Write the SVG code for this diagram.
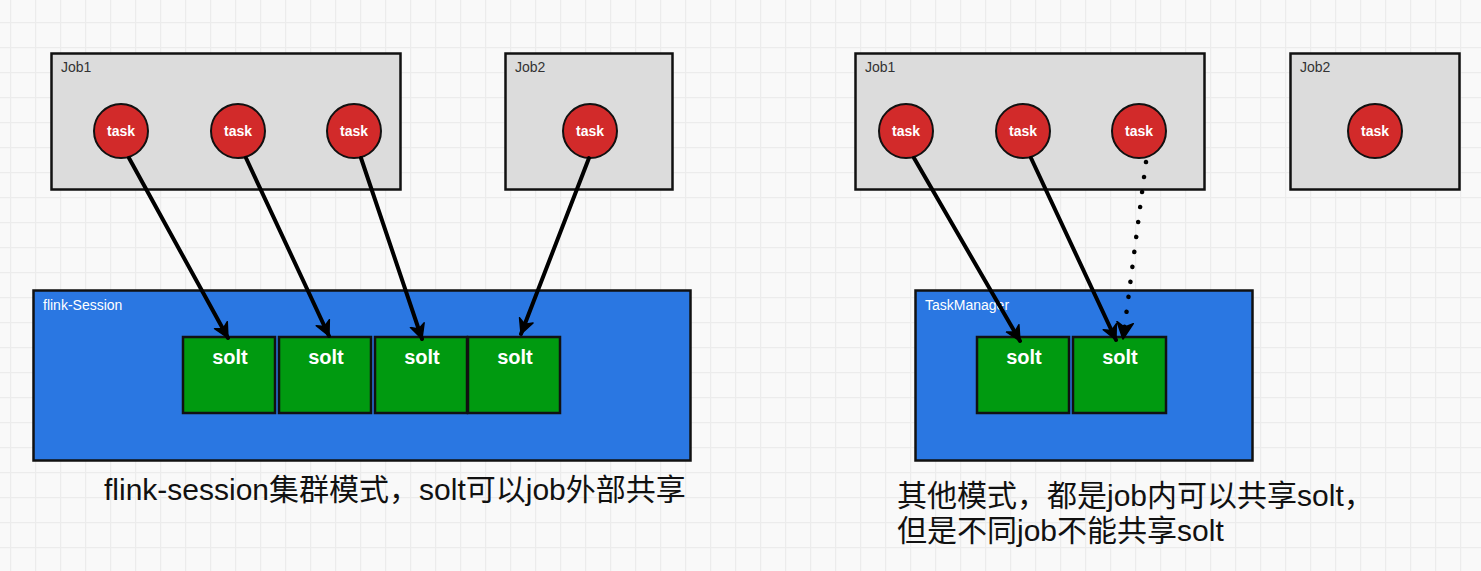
<svg xmlns="http://www.w3.org/2000/svg" width="1481" height="571" viewBox="0 0 1481 571">
<defs>
<pattern id="grid" x="10" y="22" width="25" height="25" patternUnits="userSpaceOnUse">
<path d="M0.5,0 V25 M0,0.5 H25" stroke="#ececec" stroke-width="1.5" fill="none"/>
</pattern>
<marker id="ah" viewBox="0 0 12 12" refX="11" refY="6" markerWidth="4.2" markerHeight="4.2" orient="auto" markerUnits="strokeWidth">
<path d="M0.5,0.8 L11,6 L0.5,11.2 L3.5,6 Z" fill="#000" stroke="#000" stroke-width="1" stroke-linejoin="round"/>
</marker>
<style>
.job{fill:#dcdcdc;stroke:#111;stroke-width:2.5}
.jl{font-family:"Liberation Sans",Arial,sans-serif;font-size:14px;fill:#333}
.task{fill:#d22a2a;stroke:#111;stroke-width:2}
.tt{font-family:"Liberation Sans",Arial,sans-serif;font-size:14px;font-weight:bold;fill:#fff;text-anchor:middle}
.cont{fill:#2a77e2;stroke:#111;stroke-width:2.5}
.cl{font-family:"Liberation Sans",Arial,sans-serif;font-size:14px;fill:#fff}
.slot{fill:#009a10;stroke:#111;stroke-width:2.5}
.st{font-family:"Liberation Sans",Arial,sans-serif;font-size:20px;font-weight:bold;fill:#fff;text-anchor:middle}
.cap{font-family:"Liberation Sans","Noto Sans CJK SC",sans-serif;font-size:30px;fill:#111}
.arr{stroke:#000;stroke-width:4;fill:none;stroke-linecap:round;marker-end:url(#ah)}
.dot{stroke:#000;stroke-width:4.5;fill:none;stroke-linecap:round;stroke-dasharray:0.1 15;marker-end:url(#ah)}
</style>
</defs>
<rect width="1481" height="571" fill="#f9f9f9"/>
<rect width="1481" height="571" fill="url(#grid)"/>

<g id="left-job1">
<rect class="job" x="51.5" y="53.5" width="349" height="136"/>
<text class="jl" x="61" y="72">Job1</text>
<circle class="task" cx="121" cy="131" r="27"/><text class="tt" x="121" y="136">task</text>
<circle class="task" cx="238" cy="131" r="27"/><text class="tt" x="238" y="136">task</text>
<circle class="task" cx="354" cy="131" r="27"/><text class="tt" x="354" y="136">task</text>
</g>
<g id="left-job2">
<rect class="job" x="505.5" y="53.5" width="167" height="136"/>
<text class="jl" x="515" y="72">Job2</text>
<circle class="task" cx="590" cy="131" r="27"/><text class="tt" x="590" y="136">task</text>
</g>
<g id="flink-session">
<rect class="cont" x="33.5" y="290.5" width="657" height="170"/>
<text class="cl" x="43" y="310">flink-Session</text>
</g>
<g id="left-slots">
<rect class="slot" x="183" y="337" width="92" height="76"/><text class="st" x="230" y="364">solt</text>
<rect class="slot" x="279" y="337" width="92" height="76"/><text class="st" x="326" y="364">solt</text>
<rect class="slot" x="375" y="337" width="92" height="76"/><text class="st" x="422" y="364">solt</text>
<rect class="slot" x="468" y="337" width="92" height="76"/><text class="st" x="515" y="364">solt</text>
</g>

<g id="right-job1">
<rect class="job" x="855.5" y="53.5" width="349" height="136"/>
<text class="jl" x="865" y="72">Job1</text>
<circle class="task" cx="906" cy="131" r="27"/><text class="tt" x="906" y="136">task</text>
<circle class="task" cx="1023" cy="131" r="27"/><text class="tt" x="1023" y="136">task</text>
<circle class="task" cx="1139" cy="131" r="27"/><text class="tt" x="1139" y="136">task</text>
</g>
<g id="right-job2">
<rect class="job" x="1290.5" y="53.5" width="169" height="136"/>
<text class="jl" x="1300" y="72">Job2</text>
<circle class="task" cx="1375" cy="131" r="27"/><text class="tt" x="1375" y="136">task</text>
</g>
<g id="taskmanager">
<rect class="cont" x="915.5" y="290.5" width="337" height="170"/>
<text class="cl" x="925" y="310">TaskManager</text>
</g>
<g id="right-slots">
<rect class="slot" x="977" y="337" width="92" height="76"/><text class="st" x="1024" y="364">solt</text>
<rect class="slot" x="1073" y="337" width="93" height="76"/><text class="st" x="1120" y="364">solt</text>
</g>

<g id="connectors">
<path class="arr" d="M129,158 L228,338"/>
<path class="arr" d="M246,158 L329,336"/>
<path class="arr" d="M361,158 L422,339"/>
<path class="arr" d="M589,158 L521,334"/>
<path class="arr" d="M914,158 L1020,341"/>
<path class="arr" d="M1031,158 L1116,340"/>
<path class="dot" d="M1146,162 L1123,339"/>
</g>

<g id="captions">
<text class="cap" x="104" y="500">flink-session集群模式，solt可以job外部共享</text>
<text class="cap" x="897" y="506">其他模式，都是job内可以共享solt，</text>
<text class="cap" x="897" y="541">但是不同job不能共享solt</text>
</g>
</svg>
